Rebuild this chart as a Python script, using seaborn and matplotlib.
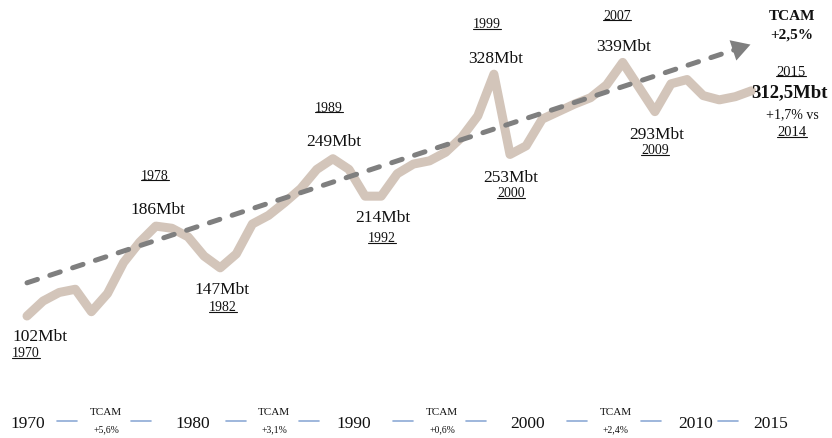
import matplotlib
matplotlib.use("Agg")
import matplotlib.pyplot as plt
from matplotlib.lines import Line2D
import seaborn as sns
import pandas as pd

# ---------------- data ----------------
years = list(range(1970, 2016))
production_mbt = [102, 116, 124, 127, 106, 123, 152, 171, 186, 184,
                  176, 158, 147, 160, 188, 196, 208, 221, 239, 249,
                  239, 214, 214, 235, 244, 247, 255, 269, 289, 328,
                  253, 261, 286, 293, 300, 306, 318, 339, 316, 293,
                  319, 323, 308, 304, 307, 312.5]
trend_years = [1970, 2015]
trend_mbt = [133, 356]

event_values = ["102Mbt", "186Mbt", "147Mbt", "249Mbt", "214Mbt",
                "328Mbt", "253Mbt", "339Mbt", "293Mbt"]
event_years = ["1970", "1978", "1982", "1989", "1992",
               "1999", "2000", "2007", "2009"]

timeline_years = ["1970", "1980", "1990", "2000", "2010", "2015"]
decade_cagr = ["+5,6%", "+3,1%", "+0,6%", "+2,4%"]

total_cagr = "+2,5%"
last_year = "2015"
last_value = "312,5Mbt"
last_growth = "+1,7% vs"
prev_year = "2014"

# ---------------- style ----------------
sns.set_theme(style="white")
plt.rcParams["font.family"] = ["Liberation Serif", "DejaVu Serif"]

W, H = 832, 439
fig = plt.figure(figsize=(W / 100, H / 100), dpi=100)
ax = fig.add_axes([0, 0, 1, 1])

LINE_C = "#d3c5ba"
TREND_C = "#7f7f7f"
DASH_C = "#8eaad6"

df = pd.DataFrame({"year": years, "mbt": production_mbt})
sns.lineplot(data=df, x="year", y="mbt", ax=ax, color=LINE_C, lw=6.5,
             solid_capstyle="round", solid_joinstyle="round")

tdf = pd.DataFrame({"year": trend_years, "mbt": trend_mbt})
sns.lineplot(data=tdf, x="year", y="mbt", ax=ax, color=TREND_C, lw=3.6,
             linestyle=(0, (2.2, 2.6)), dash_capstyle="round")
ax.annotate("", xy=(trend_years[1] + 0.1, trend_mbt[1] + 0.5),
            xytext=(trend_years[1] - 0.8, trend_mbt[1] - 4.0),
            arrowprops=dict(arrowstyle="-|>,head_length=0.95,head_width=0.55",
                            color=TREND_C, lw=0, mutation_scale=14))

# pixel mapping: x = 27 + (year-1970)*16.1 ; y = 317 - (v-102)*1.07
ppy = 16.1
ppv = 1.07
ax.set_xlim(1970 - 27 / ppy, 1970 + (W - 27) / ppy)
ax.set_ylim(102 - (H - 317) / ppv, 102 + 317 / ppv)
ax.axis("off")


def px(x, y):
    return x / W, 1 - y / H


texts_to_underline = []


def put(x, y, s, size, weight="normal", underline=False, color="#111111"):
    fx, fy = px(x, y)
    t = fig.text(fx, fy, s, ha="center", va="center", fontsize=size,
                 fontweight=weight, color=color)
    if underline:
        texts_to_underline.append(t)
    return t


value_pos = [(40, 337), (158, 210), (222, 290), (334, 142), (383, 218),
             (496, 59), (511, 178), (624, 47), (657, 135)]
year_pos = [(26, 354), (155, 176), (223, 308), (329, 108), (382, 239),
            (487, 25), (511, 194), (617, 16), (655, 151)]

for s, (x, y) in zip(event_values, value_pos):
    put(x, y, s, 12.5)
for s, (x, y) in zip(event_years, year_pos):
    put(x, y, s, 10, underline=True)

# top-right block
put(792, 17, "TCAM", 11, weight="bold")
put(792, 35, total_cagr, 11, weight="bold")
put(791, 72, last_year, 10.5, underline=True)
put(790, 93, last_value, 13.5, weight="bold")
put(792, 115, last_growth, 10)
put(792, 133, prev_year, 10.5, underline=True)

# bottom timeline
year_x = [28, 193, 354, 528, 696, 771]
cagr_x = [106, 274, 442, 616]
dash_x = [67, 141, 236, 309, 403, 476, 577, 651, 728]
for s, x in zip(timeline_years, year_x):
    put(x, 424, s, 12.5)
for s, x in zip(decade_cagr, cagr_x):
    put(x, 413, "TCAM", 8)
    put(x, 430, s, 7)
for x in dash_x:
    x0, y0 = px(x - 10, 422)
    x1, _ = px(x + 10, 422)
    fig.add_artist(Line2D([x0, x1], [y0, y0], color=DASH_C, lw=1.2))

# underline
fig.canvas.draw()
r = fig.canvas.get_renderer()
for t in texts_to_underline:
    bb = t.get_window_extent(r)
    yy = (bb.y0 + 1.5) / H
    fig.add_artist(Line2D([bb.x0 / W, bb.x1 / W], [yy, yy],
                          color="#111111", lw=0.8))

fig.savefig("out.png", dpi=100, facecolor="white")
